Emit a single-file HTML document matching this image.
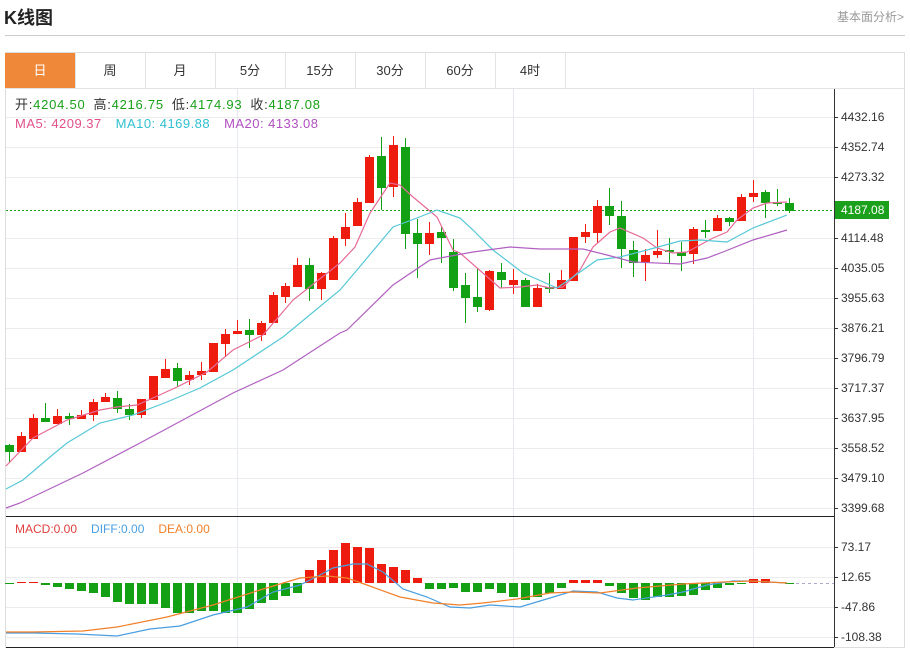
<!DOCTYPE html>
<html><head><meta charset="utf-8"><style>
body{margin:0;width:910px;height:649px;background:#fff;font-family:"Liberation Sans","Noto Sans CJK SC",sans-serif;overflow:hidden;position:relative}
.t{position:absolute;left:4px;top:4px;font-size:18px;font-weight:bold;color:#222}
.r{position:absolute;right:6px;top:8px;font-size:12px;color:#999}
.hl{position:absolute;left:5px;right:5px;top:35px;border-top:1px solid #ccc}
</style></head><body>
<div class="t">K线图</div><div class="r">基本面分析&gt;</div><div class="hl"></div>
<svg id="s" width="910" height="649" style="position:absolute;left:0;top:0" font-family="Liberation Sans, Noto Sans CJK SC, sans-serif"></svg>
<script>
var s='';
s+='<rect x="5.5" y="52.5" width="899" height="595" fill="none" stroke="#ddd"/>';
s+='<line x1="5" y1="88.5" x2="905" y2="88.5" stroke="#e3e3e3"/>';
var tabs=['日','周','月','5分','15分','30分','60分','4时'];
for(var i=0;i<8;i++){var x=5+70*i;
 if(i==0)s+='<rect x="5" y="53" width="70" height="35" fill="#f0883a"/>';
 s+='<line x1="'+(x+70.5)+'" y1="53" x2="'+(x+70.5)+'" y2="88" stroke="#e3e3e3"/>';
 s+='<text x="'+(x+35)+'" y="75" text-anchor="middle" font-size="13" fill="'+(i==0?'#fff':'#333')+'">'+tabs[i]+'</text>';}
var labs=['4432.16','4352.74','4273.32','4187.08','4114.48','4035.05','3955.63','3876.21','3796.79','3717.37','3637.95','3558.52','3479.10','3399.68'];
for(var k=0;k<14;k++){var y=117+30*k; if(k==3)continue;var yy=y; if(k>3)yy=238+30*(k-4);
 s+='<line x1="6" y1="'+(yy+.5)+'" x2="834" y2="'+(yy+.5)+'" stroke="#ececec"/>';
 s+='<line x1="834" y1="'+(yy+.5)+'" x2="838" y2="'+(yy+.5)+'" stroke="#333"/>';
 s+='<text x="841" y="'+(yy+4)+'" font-size="12" fill="#333">'+labs[k]+'</text>';}
[237,513,753].forEach(function(x){s+='<line x1="'+(x+.5)+'" y1="89" x2="'+(x+.5)+'" y2="647" stroke="#e6e9ef"/>';});
[547,577,607,637].forEach(function(y,j){s+='<line x1="6" y1="'+(y+.5)+'" x2="834" y2="'+(y+.5)+'" stroke="#ececec"/><line x1="834" y1="'+(y+.5)+'" x2="838" y2="'+(y+.5)+'" stroke="#333"/><text x="841" y="'+(y+4)+'" font-size="12" fill="#333">'+['73.17','12.65','-47.86','-108.38'][j]+'</text>';});
s+='<line x1="834.5" y1="89" x2="834.5" y2="647" stroke="#333"/>';
s+='<line x1="6" y1="516.5" x2="834" y2="516.5" stroke="#222"/><line x1="6" y1="647.5" x2="834" y2="647.5" stroke="#222"/>';
s+='<line x1="6" y1="210.5" x2="834" y2="210.5" stroke="#1aa01a" stroke-dasharray="2,2"/>';
s+='<rect x="835" y="201" width="54" height="18" fill="#1aa01a"/><text x="841" y="214" font-size="12" fill="#fff">4187.08</text>';
s+='<line x1="790" y1="583.5" x2="834" y2="583.5" stroke="#aac" stroke-dasharray="3,3"/>';
var C=[[0,445,452,444,463],[1,436,452,432,452],[1,418,439,414,439],[0,418,422,403,422],[1,416,424,409,424],[0,416,419,413,425],[1,415,419,410,419],[1,402,415,399,421],[1,397,402,393,402],[0,398,409,391,413],[0,409,415,404,420],[1,399,415,399,418],[1,376,400,376,400],[1,369,378,359,378],[0,368,381,363,387],[1,375,380,371,385],[1,371,375,362,380],[1,343,372,343,372],[1,334,344,329,357],[1,331,334,320,334],[0,330,335,319,348],[1,323,335,321,341],[1,295,323,292,323],[1,286,297,283,303],[1,265,287,258,287],[0,265,289,258,301],[1,273,289,272,300],[1,238,280,236,280],[1,227,239,213,246],[1,202,226,198,226],[1,157,203,155,203],[0,156,188,137,210],[1,145,187,136,197],[0,147,234,138,249],[0,233,244,219,278],[1,233,244,222,255],[0,232,238,226,263],[0,252,288,239,291],[0,285,298,273,323],[0,297,307,269,312],[1,271,310,270,311],[0,272,280,263,288],[1,280,285,269,294],[0,280,307,278,307],[1,288,307,284,307],[0,287,289,273,293],[1,280,289,270,289],[1,237,281,237,281],[1,232,237,224,243],[1,206,233,200,243],[0,206,216,188,225],[0,216,249,201,268],[0,250,263,241,277],[1,255,262,249,281],[1,251,255,230,258],[0,250,251,238,264],[0,252,256,242,271],[1,229,254,227,264],[0,230,231,220,238],[1,218,231,215,231],[0,218,222,217,226],[1,197,221,194,221],[1,193,197,180,202],[0,192,203,190,218],[0,202,204,189,206],[0,203,211,198,213]];
C.forEach(function(c,i){var x=9+12*i,col=c[0]?'#ee1c0e':'#14a014';
 s+='<line x1="'+(x+.5)+'" y1="'+c[3]+'" x2="'+(x+.5)+'" y2="'+c[4]+'" stroke="'+col+'"/>';
 s+='<rect x="'+(x-4)+'" y="'+c[1]+'" width="9" height="'+Math.max(2,c[2]-c[1])+'" fill="'+col+'"/>';});
function pl(p,c){s+='<polyline fill="none" stroke="'+c+'" stroke-width="1.2" points="'+p+'"/>';}
pl('6,466 33,438 67,420 100,410 117,407 137,405 153,398 177,387 207,372 233,350 263,335 293,300 340,263 355,247 370,213 390,183 400,185 413,197 437,217 453,250 460,253 500,288 520,287 537,285 550,288 563,287 580,270 593,247 610,232 620,228 643,238 657,248 673,253 687,252 700,245 713,238 727,232 737,220 753,208 767,203 787,202','#e66a98');
pl('6,489 23,480 50,457 67,443 100,423 133,415 167,402 200,388 233,370 283,337 300,323 340,290 357,270 393,227 417,218 437,210 460,218 473,230 493,250 523,273 557,288 573,277 597,260 620,257 647,250 680,241 700,240 727,242 753,228 787,215','#56c8d6');
pl('6,508 20,503 83,473 140,443 233,393 283,370 340,333 347,330 393,285 430,260 440,258 473,252 510,247 540,249 583,249 607,255 633,262 680,264 707,258 723,252 753,240 787,230','#b060c0');
var M=[584,582,582,585,587,589,591,593,597,602,604,604,604,608,613,613,611,611,613,613,609,603,600,596,593,570,560,550,543,547,548,564,567,570,578,589,589,588,592,592,589,593,597,600,597,593,588,580,580,580,586,593,598,600,597,597,596,595,590,588,585,584,579,579,582,583];
M.forEach(function(v,i){var x=9+12*i,z=583,up=v<z,col=up?'#ee1c0e':'#14a014';
 var y=Math.min(v,z),h=Math.max(1,Math.abs(v-z));s+='<rect x="'+(x-4)+'" y="'+y+'" width="9" height="'+h+'" fill="'+col+'"/>';});
pl('6,633 33,633 77,634 117,636 150,629 180,626 213,615 247,607 273,592 300,585 320,575 333,568 353,564 367,564 383,572 403,589 427,597 450,607 470,608 490,605 520,607 550,598 573,591 597,592 617,598 633,600 667,595 683,592 707,585 733,581 750,581 787,583','#4a9ee0');
pl('6,632 33,632 83,631 117,627 167,617 213,605 260,590 300,578 327,576 347,578 367,585 400,597 433,603 460,605 483,603 517,599 550,593 573,592 600,593 637,588 683,584 723,582 750,581 787,583','#f0802a');
s+='<text x="15" y="109" font-size="13" fill="#333" textLength="305" lengthAdjust="spacing">开:<tspan fill="#1aa01a">4204.50</tspan><tspan dx="8">高:</tspan><tspan fill="#1aa01a">4216.75</tspan><tspan dx="8">低:</tspan><tspan fill="#1aa01a">4174.93</tspan><tspan dx="8">收:</tspan><tspan fill="#1aa01a">4187.08</tspan></text>';
s+='<text x="15" y="128" font-size="13" textLength="303" lengthAdjust="spacing"><tspan fill="#e0508a">MA5: 4209.37</tspan><tspan fill="#30c0d0" dx="14">MA10: 4169.88</tspan><tspan fill="#b050c0" dx="14">MA20: 4133.08</tspan></text>';
s+='<text x="15" y="533" font-size="12"><tspan fill="#e04040">MACD:0.00</tspan><tspan fill="#4a9ee0" dx="14">DIFF:0.00</tspan><tspan fill="#f0802a" dx="14">DEA:0.00</tspan></text>';
document.getElementById('s').innerHTML=s;
</script>
</body></html>
